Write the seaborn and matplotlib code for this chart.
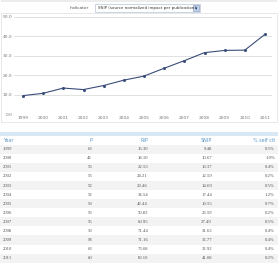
import matplotlib
matplotlib.use("Agg")
import matplotlib.pyplot as plt
import seaborn as sns
import pandas as pd
from matplotlib.patches import Rectangle

years = [1999, 2000, 2001, 2002, 2003, 2004, 2005, 2006, 2007, 2008, 2009, 2010, 2011]
p_vals = [63, 42, 53, 53, 52, 52, 59, 53, 55, 59, 58, 63, 60]
rip_vals = [15.30, 18.10, 22.53, 24.21, 29.46, 34.54, 42.44, 50.83, 60.95, 71.44, 71.16, 73.68, 80.10]
snip_vals = [9.48, 10.67, 13.37, 12.59, 14.69, 17.44, 19.55, 23.59, 27.49, 31.63, 32.77, 32.92, 41.08]
self_cit = ["0.5%", "1.0%", "0.4%", "0.2%", "0.5%", "1.2%", "0.7%", "0.2%", "0.5%", "0.4%", "0.4%", "0.4%", "0.2%"]
yticks = [0, 10, 20, 30, 40, 50]
headers = ["Year", "P", "RIP", "SNIP", "% self cit"]
indicator_label = "Indicator"
indicator_value = "SNIP (source normalized impact per publication)"

sns.set_theme(style="white")
plt.rcParams['font.family'] = ['DejaVu Sans']

W, H = 278, 266
fig = plt.figure(figsize=(W / 100, H / 100), dpi=100)
fig.patch.set_facecolor("white")

def fx(px):
    return px / W

def fy(py):
    return (H - py) / H

def rect(x0, y0, x1, y1, **kw):
    fig.patches.append(Rectangle((fx(x0), fy(y1)), fx(x1 - x0), (y1 - y0) / H,
                                 transform=fig.transFigure, figure=fig, **kw))

# container box for chart
rect(1, 13, 277, 122, facecolor="none", edgecolor="#e4e4e4", linewidth=0.6)
rect(1, 0, 277, 1.5, facecolor="#ececec", edgecolor="none")

# indicator dropdown
fig.text(fx(89), fy(8), indicator_label, fontsize=3.2, color="#555555", ha="right", va="center")
rect(95, 4, 200, 12, facecolor="white", edgecolor="#b8c4d8", linewidth=0.5)
fig.text(fx(97.5), fy(8), indicator_value, fontsize=2.85, color="#333333", ha="left", va="center")
rect(193, 5, 199, 11, facecolor="#c5d3ea", edgecolor="#7a8fb8", linewidth=0.4)
fig.text(fx(196), fy(8.2), "▾", fontsize=3.5, color="#233a75", ha="center", va="center")

# chart axes
ax_left, ax_right = 14, 272
ax_top, ax_bot = 17, 114
ax = fig.add_axes([fx(ax_left), fy(ax_bot), (ax_right - ax_left) / W, (ax_bot - ax_top) / H])
ax.set_facecolor("white")
df = pd.DataFrame({"year": years, "snip": snip_vals})
sns.lineplot(data=df, x="year", y="snip", ax=ax, color="#3b4d7a", linewidth=0.8,
             marker="o", markersize=2.2, markeredgewidth=0, zorder=3)
pxyr = (265 - 23) / 12
ax.set_xlim(1999 - (23 - ax_left) / pxyr, 2011 + (ax_right - 265) / pxyr)
ax.set_ylim(0, 50)
ax.set_yticks(yticks)
ax.set_yticklabels([f"{v:.1f}" for v in yticks])
ax.set_xticks(years)
ax.set_xticklabels([str(y) for y in years])
ax.grid(axis="y", color="#dcdcdc", linewidth=0.6)
ax.grid(axis="x", visible=False)
for s in ax.spines.values():
    s.set_visible(False)
ax.tick_params(axis="both", length=0, labelsize=3.2, labelcolor="#777777", pad=1.5)
ax.tick_params(axis="y", pad=1)
ax.set_xlabel("")
ax.set_ylabel("")

# table
rect(0, 131.5, 278, 135.5, facecolor="#d7e8f4", edgecolor="none")
header_y = 140.5
hdr_color = "#5a95c8"
col_x = [3, 92, 148, 212, 275]
col_ha = ["left", "right", "right", "right", "right"]
for h, x, ha in zip(headers, col_x, col_ha):
    fig.text(fx(x), fy(header_y), h, fontsize=3.5, color=hdr_color, ha=ha, va="center")
rect(0, 144.5, 278, 145, facecolor="#e8e8e8", edgecolor="none")

row0 = 149.2
dy = 9.08
for i, yr in enumerate(years):
    yc = row0 + i * dy
    if i % 2 == 0:
        rect(0, yc - dy / 2, 278, yc + dy / 2, facecolor="#f3f3f3", edgecolor="none")
    vals = [str(yr), str(p_vals[i]), f"{rip_vals[i]:.2f}", f"{snip_vals[i]:.2f}", self_cit[i]]
    for v, x, ha in zip(vals, col_x, col_ha):
        fig.text(fx(x), fy(yc), v, fontsize=3.4, color="#555555", ha=ha, va="center",
                 family=["Liberation Serif", "DejaVu Serif"])

fig.savefig("out.png", dpi=100, facecolor="white")
